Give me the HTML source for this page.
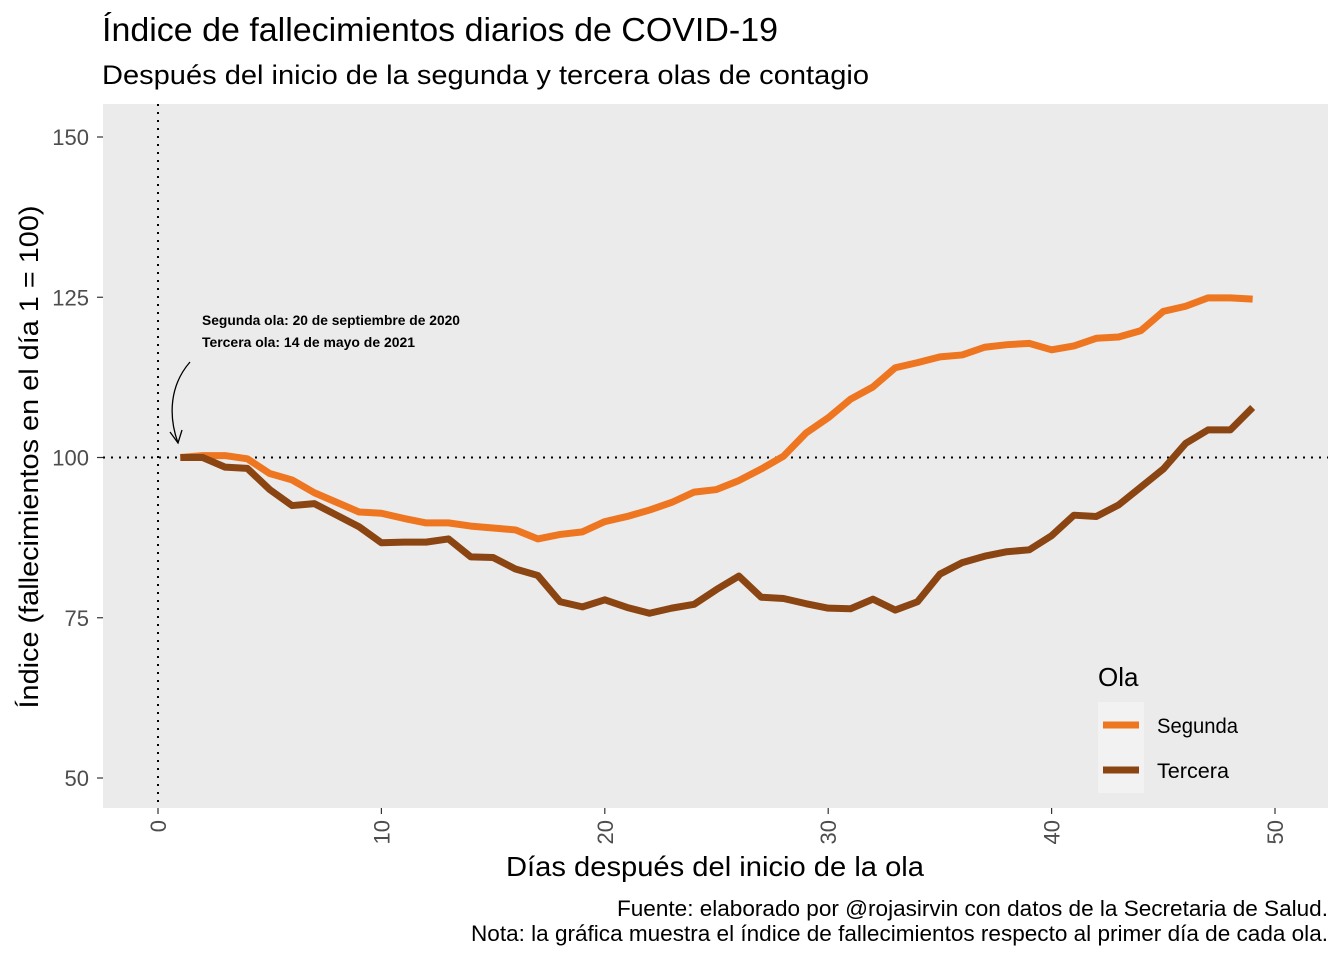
<!DOCTYPE html>
<html><head><meta charset="utf-8"><style>
body{margin:0;background:#fff;font-family:"Liberation Sans",sans-serif}
svg{display:block}
</style></head><body>
<svg id="c" width="1344" height="960" xmlns="http://www.w3.org/2000/svg" font-family="Liberation Sans, sans-serif">
<text x="102" y="41" font-size="33" textLength="676" lengthAdjust="spacingAndGlyphs" fill="#000">Índice de fallecimientos diarios de COVID-19</text>
<text x="102" y="84" font-size="27" textLength="767" lengthAdjust="spacingAndGlyphs" fill="#000">Después del inicio de la segunda y tercera olas de contagio</text>
<rect x="103" y="104" width="1225" height="704" fill="#ebebeb"/>
<g id="axes"></g>
<g id="series"></g>
<text transform="translate(38,457) rotate(-90)" text-anchor="middle" font-size="27" textLength="503" lengthAdjust="spacingAndGlyphs">Índice (fallecimientos en el día 1 = 100)</text>
<text x="715" y="876" text-anchor="middle" font-size="28" textLength="418" lengthAdjust="spacingAndGlyphs">Días después del inicio de la ola</text>
<text x="202" y="325" font-size="14" textLength="258" lengthAdjust="spacingAndGlyphs" font-weight="bold">Segunda ola: 20 de septiembre de 2020</text>
<text x="202" y="347" font-size="14" textLength="213" lengthAdjust="spacingAndGlyphs" font-weight="bold">Tercera ola: 14 de mayo de 2021</text>
<path d="M190,362 C170,385 168,415 178,443" fill="none" stroke="#000" stroke-width="1.3"/>
<path d="M170,432 L178,443 L182,430" fill="none" stroke="#000" stroke-width="1.3"/>
<g>
<text x="1098" y="686" font-size="26">Ola</text>
<rect x="1098" y="702" width="46" height="91" fill="#f2f2f2"/>
<line x1="1103" y1="725" x2="1139" y2="725" stroke="#ee7621" stroke-width="7"/>
<line x1="1103" y1="770" x2="1139" y2="770" stroke="#8b4513" stroke-width="7"/>
<text x="1157" y="733" font-size="21" textLength="81" lengthAdjust="spacingAndGlyphs">Segunda</text>
<text x="1157" y="778" font-size="21" textLength="72" lengthAdjust="spacingAndGlyphs">Tercera</text>
</g>
<text x="1328" y="916" text-anchor="end" font-size="22" textLength="711" lengthAdjust="spacingAndGlyphs">Fuente: elaborado por @rojasirvin con datos de la Secretaria de Salud.</text>
<text x="1328" y="941" text-anchor="end" font-size="22" textLength="857" lengthAdjust="spacingAndGlyphs">Nota: la gráfica muestra el índice de fallecimientos respecto al primer día de cada ola.</text>
</svg>
<script>
const days=[1,2,3,4,5,6,7,8,9,10,11,12,13,14,15,16,17,18,19,20,21,22,23,24,25,26,27,28,29,30,31,32,33,34,35,36,37,38,39,40,41,42,43,44,45,46,47,48,49];
const segunda=[100,100.3,100.3,99.8,97.5,96.5,94.5,93,91.5,91.3,90.5,89.8,89.8,89.3,89,88.7,87.3,88,88.4,90,90.8,91.8,93,94.6,95,96.4,98.2,100.2,103.8,106.2,109.1,111,114,114.8,115.7,116,117.2,117.6,117.8,116.8,117.4,118.6,118.8,119.8,122.8,123.6,124.9,124.9,124.7];
const tercera=[100,100,98.5,98.3,95,92.5,92.8,91,89.2,86.7,86.8,86.8,87.3,84.5,84.4,82.6,81.6,77.5,76.7,77.8,76.6,75.7,76.5,77.1,79.4,81.5,78.2,78,77.2,76.5,76.4,77.9,76.2,77.5,81.8,83.6,84.6,85.3,85.6,87.8,91,90.8,92.6,95.4,98.2,102.2,104.3,104.3,107.8];
const xTicks=[0,10,20,30,40,50];
const yTicks=[50,75,100,125,150];
const NS="http://www.w3.org/2000/svg";
const X=d=>158+d*(1275-158)/50;
const Y=v=>457.5-(v-100)*6.41;
const ax=document.getElementById('axes'),se=document.getElementById('series');
function mk(p,t,a){const e=document.createElementNS(NS,t);for(const k in a)e.setAttribute(k,a[k]);p.appendChild(e);return e;}
yTicks.forEach(v=>{
 const t=mk(ax,'line',{x1:97,x2:103,y1:Y(v),y2:Y(v),stroke:'#333','stroke-width':1.2});
 
 
 const l=mk(ax,'text',{x:89,y:Y(v)+8,'text-anchor':'end','font-size':22,fill:'#4d4d4d'});l.textContent=v;
 
 
});
xTicks.forEach(d=>{
 const t=mk(ax,'line',{x1:X(d),x2:X(d),y1:808,y2:814,stroke:'#333','stroke-width':1.2});
 
 
 const l=mk(ax,'text',{transform:`translate(${X(d)+8},820) rotate(-90)`,'text-anchor':'end','font-size':22,fill:'#4d4d4d'});l.textContent=d;
 
 
});
const h=mk(ax,'line',{x1:103,x2:1328,y1:Y(100),y2:Y(100),stroke:'#000','stroke-width':2,'stroke-dasharray':'2 6'});


const v=mk(ax,'line',{x1:X(0),x2:X(0),y1:104,y2:808,stroke:'#000','stroke-width':2,'stroke-dasharray':'2 6'});


function line(vals,col,name){
 const p=mk(se,'polyline',{points:days.map((d,i)=>X(d)+','+Y(vals[i])).join(' '),fill:'none',stroke:col,'stroke-width':7,'stroke-linejoin':'round'});
 
 
}
line(segunda,'#ee7621','line-segunda');
line(tercera,'#8b4513','line-tercera');
</script>
</body></html>
